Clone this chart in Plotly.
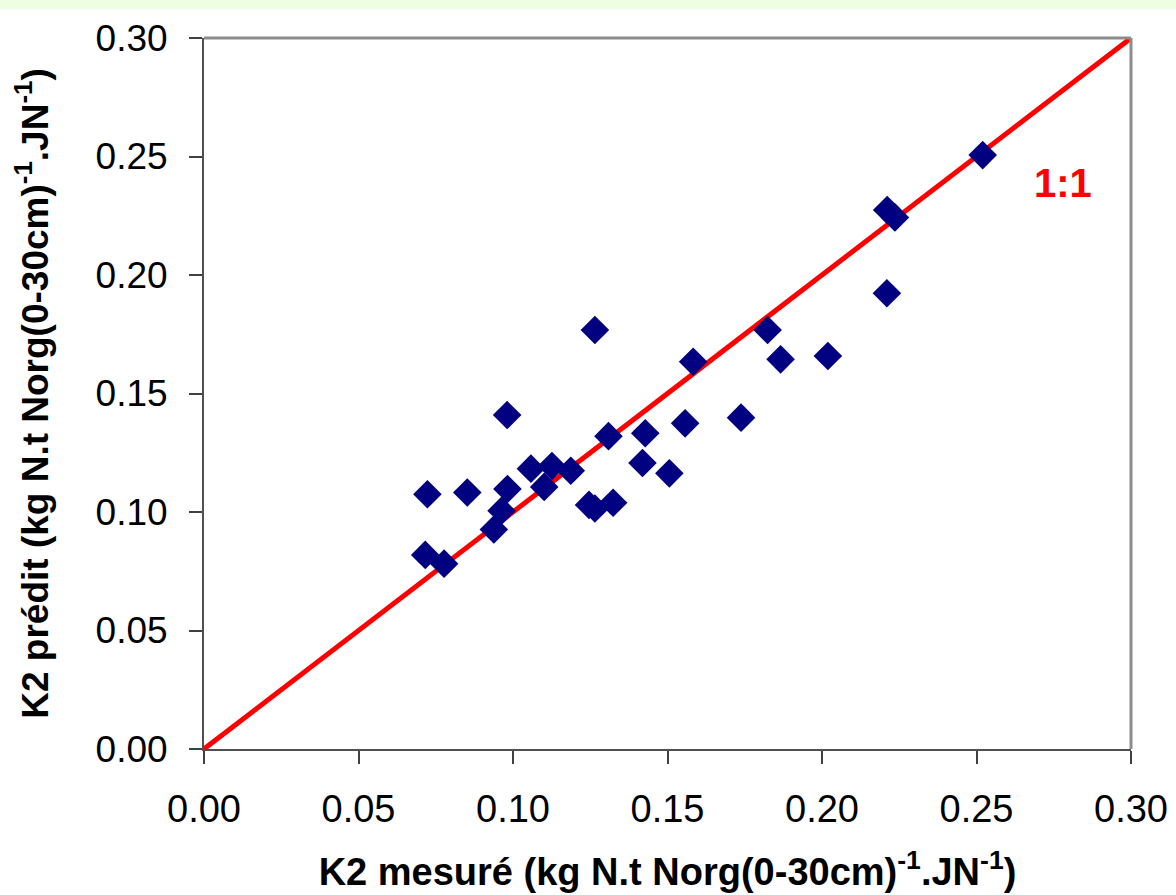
import plotly.graph_objects as go

# Data
k2_mesure = [0.2520, 0.2211, 0.2236, 0.2210, 0.1824, 0.1866, 0.2019, 0.1738, 0.1583, 0.1557,
             0.1428, 0.1309, 0.1265, 0.0981, 0.1419, 0.1506, 0.1058, 0.1126, 0.1187, 0.1101,
             0.0982, 0.0852, 0.0723, 0.0963, 0.0938, 0.1246, 0.1265, 0.1324, 0.0716, 0.0777]
k2_predit = [0.2506, 0.2274, 0.2243, 0.1923, 0.1768, 0.1644, 0.1658, 0.1398, 0.1634, 0.1374,
             0.1332, 0.1320, 0.1768, 0.1409, 0.1207, 0.1163, 0.1183, 0.1194, 0.1174, 0.1106,
             0.1097, 0.1082, 0.1075, 0.1005, 0.0926, 0.1030, 0.1015, 0.1039, 0.0819, 0.0782]
line_11 = [0.0, 0.30]
tick_vals = [0.00, 0.05, 0.10, 0.15, 0.20, 0.25, 0.30]

FONT = "Liberation Sans, Arial, sans-serif"

fig = go.Figure()
fig.add_trace(go.Scatter(x=line_11, y=line_11, mode="lines",
                         line=dict(color="#ff0000", width=5), hoverinfo="skip"))
fig.add_trace(go.Scatter(x=k2_mesure, y=k2_predit, mode="markers",
                         marker=dict(symbol="diamond", size=22, color="#000080",
                                     line=dict(width=0))))

title_txt_x = "<b>K2 mesuré (kg N.t Norg(0-30cm)<sup>-1</sup>.JN<sup>-1</sup>)</b>"
title_txt_y = "<b>K2 prédit (kg N.t Norg(0-30cm)<sup>-1</sup>.JN<sup>-1</sup>)</b>"

fig.update_layout(
    width=1176, height=895,
    margin=dict(l=204, r=45, t=38, b=146),
    paper_bgcolor="white", plot_bgcolor="white",
    showlegend=False,
    font=dict(family=FONT, color="black"),
    xaxis=dict(range=[0, 0.30], tickvals=tick_vals, tickformat=".2f",
               showgrid=False, zeroline=False, showline=True, linecolor="#505050",
               linewidth=2, ticks="outside", ticklen=13, tickwidth=1.5, tickcolor="#404040",
               tickfont=dict(size=38, family=FONT), ticklabelstandoff=12,
               title=dict(text=title_txt_x, font=dict(size=38, family=FONT), standoff=30),
               automargin=False),
    yaxis=dict(range=[0, 0.30], tickvals=tick_vals, tickformat=".2f",
               showgrid=False, zeroline=False, showline=True, linecolor="#505050",
               linewidth=2, ticks="outside", ticklen=13, tickwidth=1.5, tickcolor="#404040",
               tickfont=dict(size=37, family=FONT), ticklabelstandoff=14,
               title=dict(text=title_txt_y, font=dict(size=37, family=FONT), standoff=36),
               automargin=False),
)

# gray frame on top and right
fig.add_shape(type="line", xref="paper", yref="paper", x0=0, x1=1, y0=1, y1=1,
              line=dict(color="#8c8c8c", width=3))
fig.add_shape(type="line", xref="paper", yref="paper", x0=1, x1=1, y0=0, y1=1,
              line=dict(color="#8c8c8c", width=3))
# light green band at the very top of the page
fig.add_shape(type="rect", xref="paper", yref="paper",
              x0=-204/927, x1=(1176-204)/927, y0=(749-9)/711, y1=749/711,
              fillcolor="#eefee2", line=dict(width=0), layer="below")

fig.add_annotation(x=0.278, y=0.2388, xref="x", yref="y", text="<b>1:1</b>",
                   showarrow=False, font=dict(size=40, color="#ff0000", family=FONT))

fig.write_html("out.html")
